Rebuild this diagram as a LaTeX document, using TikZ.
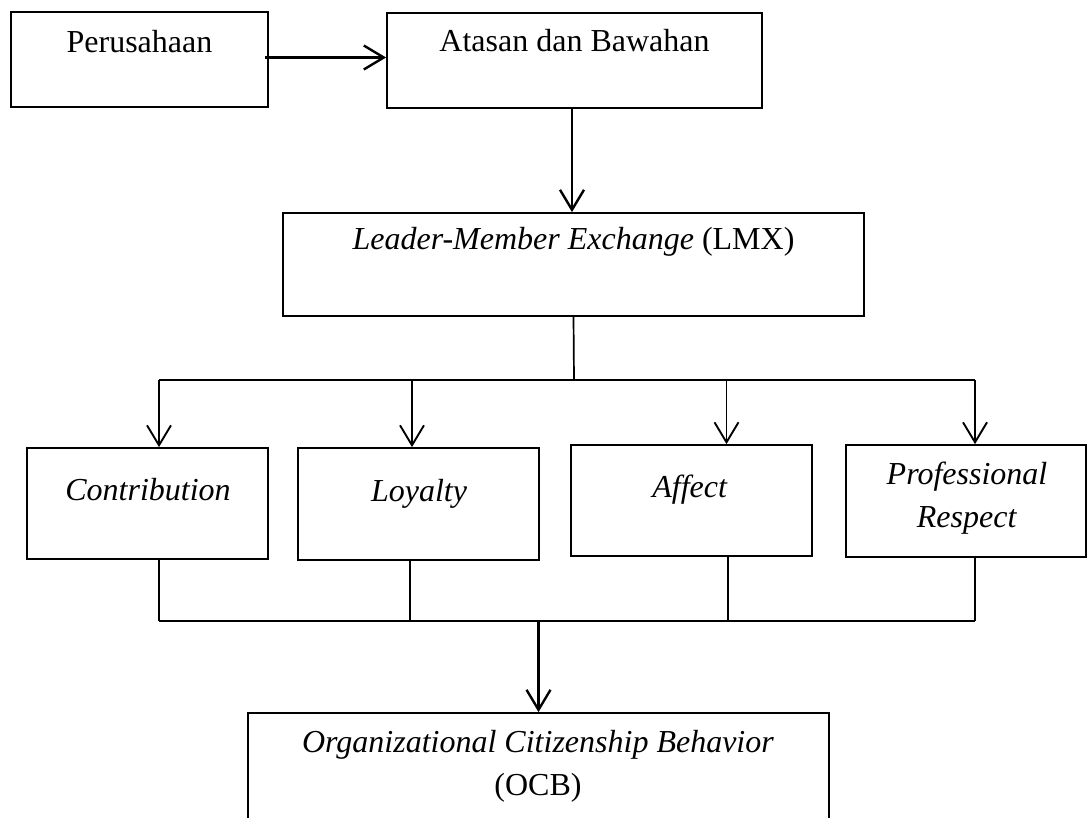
\documentclass[tikz,border=0pt]{standalone}
\usepackage{fontspec}
\setmainfont{Liberation Serif}
\usetikzlibrary{arrows.meta}
\tikzset{
  boxnode/.style={draw=black, line width=1.7pt, rectangle, inner sep=0pt},
  txt/.style={font=\fontsize{32}{43}\selectfont, inner sep=0pt, anchor=base},
  arr/.style={draw=black, line width=2.6pt, -{Straight Barb[length=20pt,width=24pt,line width=2.4pt]}},
  thinarr/.style={draw=black, line width=1.8pt, -{Straight Barb[length=20pt,width=24pt,line width=1.9pt]}},
  busline/.style={draw=black, line width=1.7pt}
}
\begin{document}
\begin{tikzpicture}[x=1pt,y=-1pt]
\clip (0,0) rectangle (1087,818);
\fill[white] (0,0) rectangle (1087,818);
% boxes
\node[boxnode, minimum width=257pt, minimum height=95pt] (per) at (139.5,59.5) {};
\node[boxnode, minimum width=375pt, minimum height=95pt] (ata) at (574.5,60.5) {};
\node[boxnode, minimum width=581pt, minimum height=103pt] (lmx) at (573.5,264.5) {};
\node[boxnode, minimum width=241pt, minimum height=111pt] (con) at (147.5,503.5) {};
\node[boxnode, minimum width=241pt, minimum height=112pt] (loy) at (418.5,504) {};
\node[boxnode, minimum width=241pt, minimum height=111pt] (aff) at (691.5,500.5) {};
\node[boxnode, minimum width=240pt, minimum height=112pt] (pro) at (966,501) {};
\node[boxnode, minimum width=581pt, minimum height=154pt] (ocb) at (538.5,790) {};
% texts
\node[txt] (tper) at (139.5,53) {Perusahaan};
\node[txt] (tata) at (574.5,52) {Atasan dan Bawahan};
\node[txt] (tlmx) at (573.5,250) {\textit{Leader-Member Exchange} (LMX)};
\node[txt] (tcon) at (148,500) {\textit{Contribution}};
\node[txt] (tloy) at (419,501) {\textit{Loyalty}};
\node[txt] (taff) at (690,497) {\textit{Affect}};
\node[txt] (tpro1) at (967,484) {\textit{Professional}};
\node[txt] (tpro2) at (967,527) {\textit{Respect}};
\node[txt] (tocb1) at (538,752) {\textit{Organizational Citizenship Behavior}};
\node[txt] (tocb2) at (538,795) {(OCB)};
% top connectors
\draw[arr] ([xshift=-4pt,yshift=2pt]per.east) -- ([yshift=2pt]per.east -| ata.west);
\draw[arr] ([xshift=-2.5pt]ata.south) -- ([xshift=-2.5pt]ata.south |- lmx.north);
% upper bus
\coordinate (bm) at (574,380);
\coordinate (b1) at (159,380);
\coordinate (b2) at (412,380);
\coordinate (b3) at (726.5,380);
\coordinate (b4) at (975,380);
\draw[busline] (lmx.south) -- (bm);
\draw[busline] (b1) -- (b4);
\draw[thinarr] (b1) -- (b1 |- con.north);
\draw[thinarr] (b2) -- (b2 |- loy.north);
\draw[thinarr] (b3) -- (b3 |- aff.north);
\draw[thinarr] (b4) -- (b4 |- pro.north);
% lower bus
\coordinate (c1) at (159,621);
\coordinate (c2) at (410,621);
\coordinate (c3) at (728,621);
\coordinate (c4) at (975,621);
\draw[busline] (c1 |- con.south) -- (c1);
\draw[busline] (c2 |- loy.south) -- (c2);
\draw[busline] (c3 |- aff.south) -- (c3);
\draw[busline] (c4 |- pro.south) -- (c4);
\draw[busline] (c1) -- (c4);
\draw[arr] (ocb.north |- c1) -- (ocb.north);
\end{tikzpicture}
\end{document}
